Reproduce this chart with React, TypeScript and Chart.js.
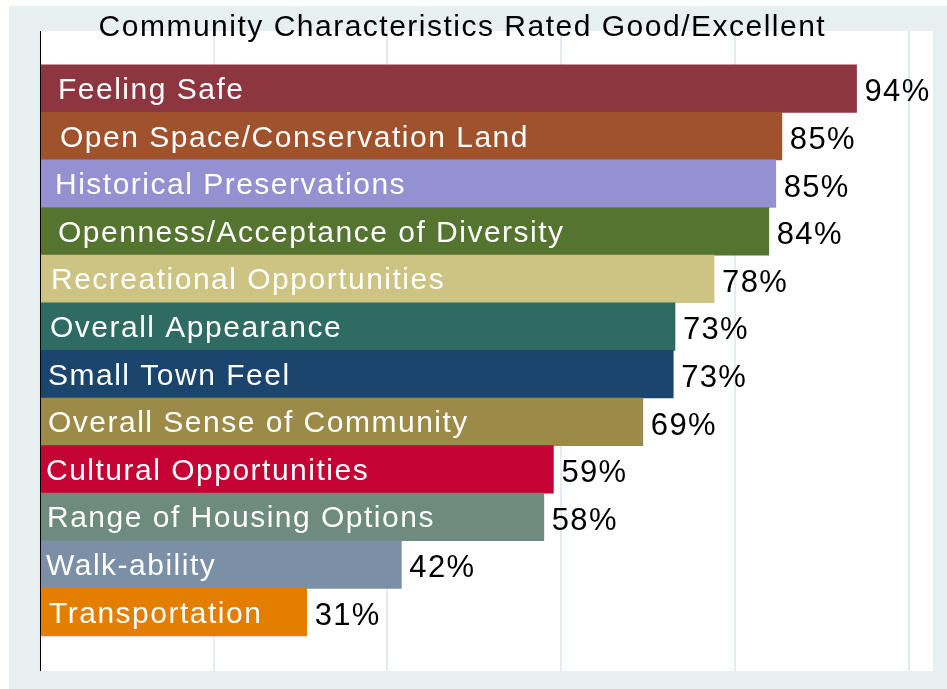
import React, { useEffect, useRef } from "react";
import { Chart, registerables } from "chart.js";

Chart.register(...registerables);

const chartTitle = "Community Characteristics Rated Good/Excellent";

const categories = [
  "Feeling Safe",
  "Open Space/Conservation Land",
  "Historical Preservations",
  "Openness/Acceptance of Diversity",
  "Recreational Opportunities",
  "Overall Appearance",
  "Small Town Feel",
  "Overall Sense of Community",
  "Cultural Opportunities",
  "Range of Housing Options",
  "Walk-ability",
  "Transportation",
];

const values = [94.0, 85.4, 84.7, 83.9, 77.6, 73.1, 72.9, 69.4, 59.1, 58.0, 41.6, 30.7];

const valueLabels = ["94%", "85%", "85%", "84%", "78%", "73%", "73%", "69%", "59%", "58%", "42%", "31%"];

const barColors = [
  "#8e363f",
  "#a0522d",
  "#9590d2",
  "#55742f",
  "#cdc383",
  "#2e6b62",
  "#1b456d",
  "#9c8a48",
  "#c40233",
  "#6e8b7f",
  "#7b8fa6",
  "#e37e00",
];

// style: left inset of the in-bar text (px)
const labelInsets = [17, 19, 14, 17, 10, 9, 7, 7, 5, 6, 5, 8];

const FONT = "'Liberation Sans', Arial, Helvetica, sans-serif";

const decorPlugin = {
  id: "decor",
  beforeDraw(chart: any) {
    const { ctx, chartArea } = chart;
    ctx.save();
    ctx.fillStyle = "#ffffff";
    ctx.fillRect(0, 0, chart.width, chart.height);
    ctx.fillStyle = "#e8eff1";
    ctx.fillRect(9, 6, chart.width - 9, chart.height - 6);
    ctx.fillStyle = "#ffffff";
    ctx.fillRect(chartArea.left, chartArea.top, chartArea.right - chartArea.left, chartArea.bottom - chartArea.top);
    ctx.restore();
  },
  afterDatasetsDraw(chart: any) {
    const { ctx, chartArea } = chart;
    const meta = chart.getDatasetMeta(0);
    ctx.save();
    // axis line
    ctx.strokeStyle = "#000000";
    ctx.lineWidth = 1;
    ctx.beginPath();
    ctx.moveTo(chartArea.left + 0.5, chartArea.top);
    ctx.lineTo(chartArea.left + 0.5, chartArea.bottom);
    ctx.stroke();

    ctx.textBaseline = "alphabetic";
    ctx.textAlign = "left";
    meta.data.forEach((el: any, i: number) => {
      const start = Math.min(el.base, el.x);
      const end = Math.max(el.base, el.x);
      (ctx as any).letterSpacing = "1.5px";
      ctx.font = `30px ${FONT}`;
      ctx.fillStyle = "#ffffff";
      ctx.fillText(categories[i], start + labelInsets[i], el.y + 10.5);
      (ctx as any).letterSpacing = "1.3px";
      ctx.font = `31px ${FONT}`;
      ctx.fillStyle = "#000000";
      ctx.fillText(valueLabels[i], end + 8, el.y + 12.8);
    });

    ctx.font = `30px ${FONT}`;
    (ctx as any).letterSpacing = "1.5px";
    ctx.fillStyle = "#000000";
    ctx.fillText(chartTitle, 98.6, 36);
    ctx.restore();
  },
};

export default function App() {
  const canvasRef = useRef<HTMLCanvasElement | null>(null);

  useEffect(() => {
    document.body.style.margin = "0";
    const canvas = canvasRef.current;
    if (!canvas) return;
    const chart = new Chart(canvas, {
      type: "bar",
      data: {
        datasets: [
          {
            data: values.map((v, i) => ({ x: v, y: i })),
            backgroundColor: barColors,
            borderWidth: 0,
            barPercentage: 1,
            categoryPercentage: 1,
          },
        ],
      },
      options: {
        indexAxis: "y",
        animation: false,
        responsive: false,
        devicePixelRatio: 1,
        layout: { padding: { left: 40, top: 31, right: 14, bottom: 18 } },
        plugins: {
          legend: { display: false },
          tooltip: { enabled: false },
          title: { display: false },
        },
        scales: {
          x: {
            type: "linear",
            min: 0,
            max: 102.8,
            display: true,
            ticks: { display: false, stepSize: 20, includeBounds: false },
            grid: { color: "#e4ecef", lineWidth: 2, drawTicks: false },
            border: { display: false },
          },
          y: {
            type: "linear",
            display: false,
            offset: false,
            grid: { offset: false },
            reverse: true,
            min: -1.208,
            max: 12.235,
          },
        },
      },
      plugins: [decorPlugin],
    } as any);
    return () => chart.destroy();
  }, []);

  return (
    <div style={{ width: 947, height: 689 }}>
      <canvas ref={canvasRef} width={947} height={689} style={{ display: "block", width: 947, height: 689 }} />
    </div>
  );
}
